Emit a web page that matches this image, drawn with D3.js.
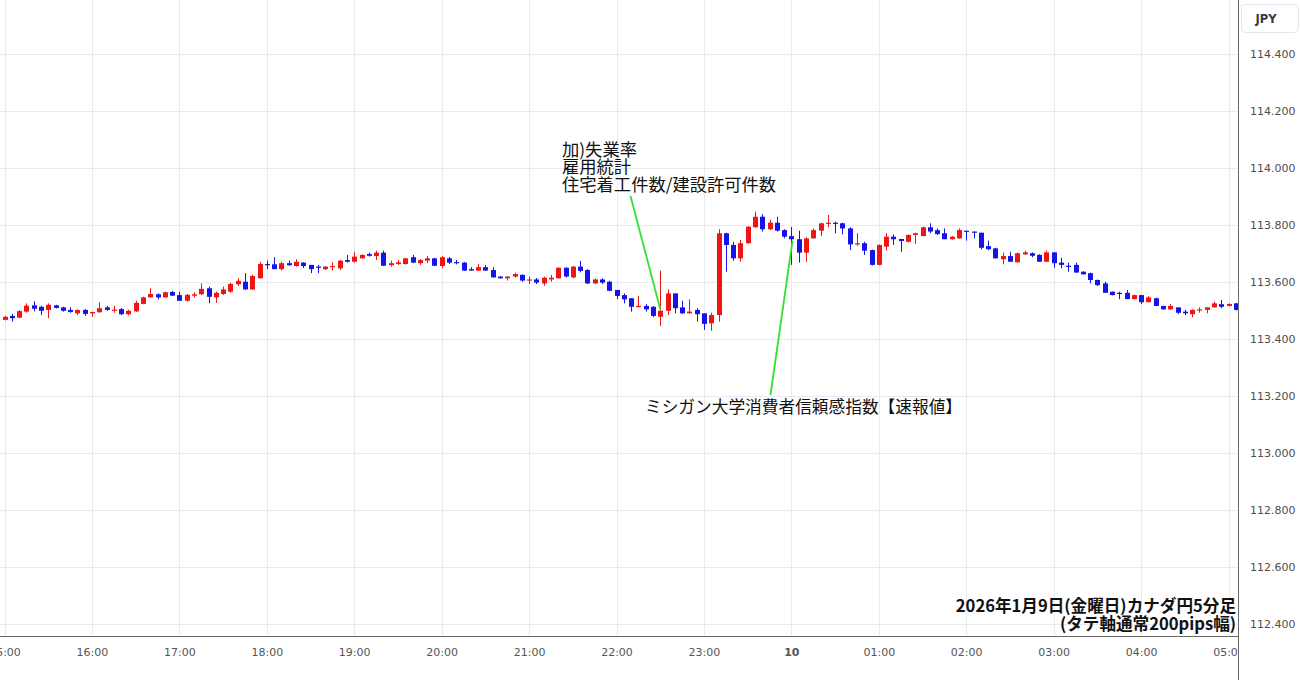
<!DOCTYPE html>
<html><head><meta charset="utf-8">
<script src="https://cdn.jsdelivr.net/npm/d3@7"></script>
<style>
html,body{margin:0;padding:0;background:#fff;}
svg{display:block;}
</style></head><body>
<svg id="chart" width="1300" height="680"></svg>
<script>
// ---- data ----
const startTime = "2026-01-09T15:00:00Z";   // first 5-minute candle
const endTime = "2026-01-10T05:00:00Z";     // last hour tick
const intervalMinutes = 5;

const open = [113.467,113.481,113.475,113.496,113.518,113.513,113.502,113.518,113.511,113.502,113.490,113.502,113.490,113.494,113.511,113.499,113.505,113.487,113.497,113.523,113.546,113.557,113.546,113.565,113.554,113.534,113.552,113.557,113.578,113.546,113.558,113.566,113.592,113.601,113.574,113.613,113.663,113.662,113.645,113.666,113.656,113.668,113.660,113.654,113.645,113.652,113.648,113.677,113.671,113.683,113.698,113.691,113.703,113.659,113.663,113.663,113.687,113.666,113.675,113.683,113.656,113.683,113.670,113.668,113.645,113.640,113.652,113.642,113.619,113.613,113.619,113.625,113.605,113.609,113.595,113.609,113.613,113.650,113.616,113.654,113.642,113.595,113.609,113.601,113.572,113.554,113.543,113.513,113.516,113.513,113.478,113.499,113.560,113.511,113.490,113.502,113.490,113.455,113.484,113.771,113.730,113.683,113.736,113.792,113.829,113.785,113.808,113.782,113.761,113.750,113.703,113.753,113.780,113.804,113.808,113.806,113.788,113.732,113.736,113.712,113.660,113.724,113.759,113.751,113.741,113.765,113.761,113.792,113.782,113.771,113.750,113.753,113.780,113.777,113.773,113.726,113.718,113.680,113.691,113.669,113.697,113.701,113.695,113.671,113.704,113.668,113.657,113.660,113.636,113.631,113.607,113.595,113.566,113.562,113.562,113.540,113.554,113.529,113.543,113.516,113.504,113.511,113.496,113.487,113.502,113.502,113.511,113.522,113.516,113.525];
const high = [113.481,113.488,113.501,113.525,113.532,113.517,113.525,113.520,113.513,113.511,113.504,113.505,113.495,113.529,113.516,113.516,113.509,113.503,113.534,113.548,113.578,113.560,113.566,113.569,113.566,113.558,113.564,113.595,113.584,113.566,113.584,113.598,113.613,113.631,113.625,113.671,113.675,113.687,113.671,113.675,113.680,113.670,113.660,113.660,113.656,113.669,113.677,113.695,113.706,113.697,113.703,113.710,113.710,113.675,113.677,113.685,113.695,113.680,113.691,113.685,113.691,113.688,113.677,113.670,113.652,113.663,113.660,113.652,113.620,113.621,113.633,113.627,113.619,113.614,113.619,113.625,113.652,113.652,113.656,113.674,113.645,113.612,113.613,113.604,113.572,113.560,113.543,113.551,113.523,113.516,113.640,113.574,113.560,113.534,113.539,113.508,113.490,113.492,113.785,113.773,113.741,113.747,113.796,113.847,113.838,113.818,113.829,113.785,113.793,113.780,113.757,113.788,113.808,113.835,113.812,113.808,113.792,113.771,113.741,113.714,113.732,113.771,113.767,113.751,113.767,113.773,113.794,113.806,113.788,113.788,113.761,113.788,113.780,113.777,113.773,113.745,113.720,113.703,113.706,113.703,113.709,113.704,113.698,113.710,113.704,113.685,113.668,113.668,113.638,113.633,113.609,113.601,113.567,113.566,113.572,113.556,113.554,113.551,113.545,113.517,113.523,113.511,113.502,113.504,113.511,113.511,113.531,113.537,113.525,113.527];
const low = [113.465,113.461,113.473,113.492,113.497,113.484,113.473,113.507,113.496,113.492,113.484,113.481,113.478,113.492,113.499,113.492,113.484,113.483,113.495,113.522,113.546,113.539,113.545,113.551,113.534,113.531,113.546,113.554,113.525,113.527,113.554,113.562,113.586,113.572,113.572,113.613,113.645,113.645,113.640,113.656,113.654,113.649,113.631,113.631,113.642,113.640,113.642,113.668,113.668,113.682,113.689,113.677,113.656,113.654,113.660,113.661,113.666,113.660,113.666,113.656,113.648,113.663,113.662,113.639,113.640,113.639,113.639,113.616,113.612,113.605,113.616,113.601,113.593,113.593,113.587,113.601,113.612,113.616,113.613,113.634,113.593,113.593,113.593,113.568,113.540,113.525,113.496,113.511,113.496,113.477,113.446,113.484,113.490,113.488,113.490,113.461,113.432,113.429,113.461,113.636,113.675,113.671,113.734,113.791,113.777,113.782,113.777,113.753,113.660,113.668,113.671,113.752,113.761,113.792,113.771,113.767,113.712,113.727,113.695,113.658,113.659,113.710,113.730,113.706,113.739,113.733,113.760,113.771,113.765,113.750,113.749,113.752,113.745,113.753,113.715,113.712,113.682,113.662,113.671,113.668,113.695,113.687,113.671,113.671,113.650,113.648,113.636,113.633,113.626,113.595,113.586,113.562,113.553,113.540,113.540,113.539,113.522,113.529,113.515,113.503,113.503,113.488,113.484,113.476,113.492,113.490,113.510,113.508,113.514,113.500];
const close = [113.478,113.473,113.498,113.517,113.506,113.499,113.520,113.509,113.499,113.495,113.502,113.488,113.495,113.508,113.502,113.503,113.487,113.499,113.527,113.546,113.558,113.546,113.564,113.552,113.534,113.555,113.557,113.576,113.548,113.562,113.574,113.593,113.604,113.574,113.621,113.663,113.660,113.645,113.666,113.659,113.671,113.656,113.645,113.652,113.654,113.656,113.675,113.671,113.689,113.695,113.692,113.703,113.657,113.666,113.669,113.683,113.668,113.677,113.683,113.657,113.687,113.668,113.668,113.640,113.640,113.652,113.640,113.616,113.613,113.619,113.628,113.605,113.609,113.598,113.615,113.615,113.650,113.619,113.654,113.639,113.595,113.609,113.598,113.569,113.551,113.539,113.513,113.516,113.504,113.481,113.499,113.560,113.508,113.490,113.496,113.487,113.453,113.484,113.771,113.730,113.683,113.736,113.794,113.829,113.785,113.808,113.780,113.759,113.750,113.703,113.753,113.782,113.806,113.808,113.806,113.788,113.732,113.736,113.710,113.660,113.730,113.759,113.750,113.744,113.765,113.771,113.792,113.777,113.768,113.750,113.759,113.782,113.777,113.774,113.720,113.715,113.683,113.691,113.671,113.701,113.704,113.692,113.671,113.704,113.666,113.660,113.654,113.633,113.627,113.607,113.589,113.562,113.554,113.558,113.540,113.554,113.529,113.546,113.516,113.504,113.516,113.492,113.490,113.502,113.504,113.511,113.525,113.513,113.523,113.502];

const priceTicks = [112.4,112.6,112.8,113.0,113.2,113.4,113.6,113.8,114.0,114.2,114.4];
const timeTickLabels = ["15:00","16:00","17:00","18:00","19:00","20:00","21:00","22:00","23:00","10","01:00","02:00","03:00","04:00","05:00"];
const currencyLabel = "JPY";

const event1Lines = ["加)失業率","雇用統計","住宅着工件数/建設許可件数"];
const event1Candle = 90;   const event1Price = 113.502;
const event2Text = "ミシガン大学消費者信頼感指数【速報値】";
const event2Candle = 108;  const event2Price = 113.745;
const captionLines = ["2026年1月9日(金曜日)カナダ円5分足","(タテ軸通常200pips幅)"];

// ---- layout ----
const W = 1300, H = 680, plotRight = 1238, plotBottom = 636;
const upColor = "#f01515", downColor = "#1414ea";
const gridColor = "#e7ebf0", axisColor = "#6a6a6a";
const cjk = "'Noto Sans CJK JP','Noto Sans',sans-serif";

const t0 = new Date(startTime), t1 = new Date(endTime);
const times = open.map((_, i) => new Date(+t0 + i * intervalMinutes * 60000));
const x = d3.scaleUtc().domain([t0, t1]).range([4.5, 1228.5]);
const y = d3.scaleLinear().domain([112.4, 114.4]).range([624, 54]);

const svg = d3.select("#chart");
const defs = svg.append("defs");
defs.append("clipPath").attr("id", "plotClip").append("rect")
  .attr("x", 0).attr("y", 0).attr("width", plotRight).attr("height", plotBottom);
defs.append("clipPath").attr("id", "xClip").append("rect")
  .attr("x", 0).attr("y", plotBottom).attr("width", plotRight).attr("height", H - plotBottom);

svg.append("rect").attr("width", W).attr("height", H).attr("fill", "#fff");

const hourTicks = d3.utcHour.range(t0, new Date(+t1 + 1));

// grid
const grid = svg.append("g").attr("clip-path", "url(#plotClip)");
grid.selectAll(".vg").data(hourTicks).join("line")
  .attr("x1", d => Math.round(x(d)) + 0.5).attr("x2", d => Math.round(x(d)) + 0.5)
  .attr("y1", 0).attr("y2", plotBottom)
  .attr("stroke", gridColor).attr("stroke-width", 1);
grid.selectAll(".hg").data(priceTicks).join("line")
  .attr("x1", 0).attr("x2", plotRight)
  .attr("y1", d => Math.round(y(d)) + 0.5).attr("y2", d => Math.round(y(d)) + 0.5)
  .attr("stroke", gridColor).attr("stroke-width", 1);

// candles
const candles = svg.append("g").attr("clip-path", "url(#plotClip)");
const idx = d3.range(open.length);
const col = i => close[i] >= open[i] ? upColor : downColor;
candles.selectAll(".wick").data(idx).join("line")
  .attr("x1", i => Math.round(x(times[i])) + 0.5).attr("x2", i => Math.round(x(times[i])) + 0.5)
  .attr("y1", i => y(high[i])).attr("y2", i => y(low[i]))
  .attr("stroke", col).attr("stroke-width", 1);
candles.selectAll(".body").data(idx).join("rect")
  .attr("x", i => Math.round(x(times[i])) - 2)
  .attr("width", 5)
  .attr("y", i => y(Math.max(open[i], close[i])))
  .attr("height", i => Math.max(1.2, Math.abs(y(open[i]) - y(close[i]))))
  .attr("fill", col);

// axis frame lines
svg.append("line").attr("x1", 0).attr("x2", plotRight + 0.5)
  .attr("y1", plotBottom + 0.5).attr("y2", plotBottom + 0.5)
  .attr("stroke", axisColor).attr("stroke-width", 1);
svg.append("line").attr("x1", plotRight + 0.5).attr("x2", plotRight + 0.5)
  .attr("y1", 0).attr("y2", H)
  .attr("stroke", axisColor).attr("stroke-width", 1);

// y axis
const yAxis = svg.append("g").attr("transform", `translate(${plotRight},0)`)
  .call(d3.axisRight(y).tickValues(priceTicks).tickFormat(d3.format(".3f")).tickSize(0).tickPadding(12));
yAxis.select(".domain").remove();
yAxis.selectAll("text").attr("font-family", "'DejaVu Sans',Verdana,sans-serif")
  .attr("font-size", 11).attr("fill", "#4e4e4e");

// currency box
svg.append("rect").attr("x", 1241.5).attr("y", 4.5).attr("width", 57).attr("height", 28)
  .attr("rx", 4).attr("fill", "#fff").attr("stroke", "#e3e6ec");
svg.append("text").attr("x", 1266).attr("y", 22.5).attr("text-anchor", "middle")
  .attr("font-family", "'DejaVu Sans',Verdana,sans-serif").attr("font-size", 11.5)
  .attr("font-weight", "bold").attr("fill", "#3a3a3a").text(currencyLabel);

// x axis (labels clipped at the plot's right edge)
const xWrap = svg.append("g").attr("clip-path", "url(#xClip)");
const xAxis = xWrap.append("g").attr("transform", `translate(0,${plotBottom})`)
  .call(d3.axisBottom(x).tickValues(hourTicks).tickFormat((d, i) => timeTickLabels[i]).tickSize(0).tickPadding(12));
xAxis.select(".domain").remove();
xAxis.selectAll("text").attr("font-family", "'DejaVu Sans',Verdana,sans-serif")
  .attr("font-size", 11).attr("fill", "#555")
  .attr("font-weight", (d, i) => timeTickLabels[i] === "10" ? "bold" : "normal");

// annotations
const ann = svg.append("g");
const e1x = Math.round(x(times[event1Candle])) + 0.5, e1y = y(event1Price);
ann.append("line").attr("x1", 630.5).attr("y1", 196).attr("x2", e1x).attr("y2", e1y)
  .attr("stroke", "#33e033").attr("stroke-width", 1.8);
const e2x = Math.round(x(times[event2Candle])) + 1.5, e2y = y(event2Price);
ann.append("line").attr("x1", e2x).attr("y1", e2y).attr("x2", 770.5).attr("y2", 395)
  .attr("stroke", "#33e033").attr("stroke-width", 1.8);

ann.append("text").attr("font-family", cjk).attr("font-size", 17.3).attr("fill", "#111")
  .selectAll("tspan").data(event1Lines).join("tspan")
  .attr("x", 562).attr("y", (d, i) => 156 + i * 17.4).text(d => d);
ann.append("text").attr("x", 645).attr("y", 413).attr("font-family", cjk)
  .attr("font-size", 16.7).attr("fill", "#111").text(event2Text);

ann.append("text").attr("font-family", cjk).attr("font-size", 16.6).attr("font-weight", "bold")
  .attr("fill", "#111").attr("text-anchor", "end")
  .selectAll("tspan").data(captionLines).join("tspan")
  .attr("x", 1236).attr("y", (d, i) => 612 + i * 18).text(d => d);
</script>
</body></html>
